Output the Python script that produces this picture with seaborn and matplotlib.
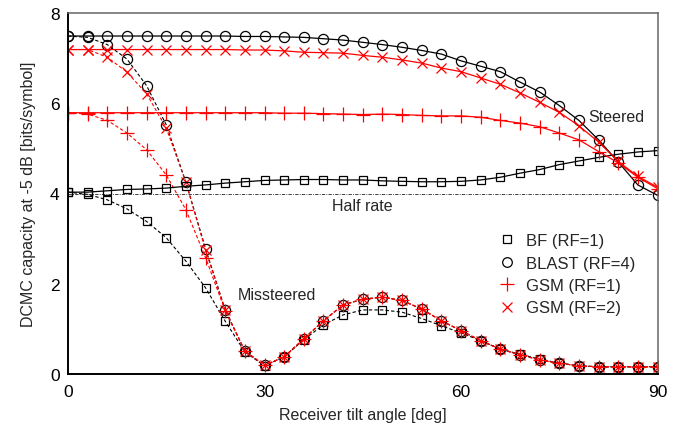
import numpy as np
import pandas as pd
import matplotlib
matplotlib.use("Agg")
import matplotlib.pyplot as plt
from matplotlib.lines import Line2D
import seaborn as sns

# ---------------- data ----------------
angles = list(range(0, 91, 3))

bf_steered = [4.03, 4.03, 4.06, 4.09, 4.10, 4.12, 4.16, 4.19, 4.23, 4.26, 4.29,
              4.30, 4.31, 4.31, 4.30, 4.30, 4.28, 4.27, 4.26, 4.26, 4.27, 4.30,
              4.36, 4.45, 4.53, 4.64, 4.72, 4.80, 4.87, 4.92, 4.95]
blast_steered = [7.49, 7.49, 7.49, 7.49, 7.49, 7.49, 7.49, 7.49, 7.49, 7.48, 7.48,
                 7.47, 7.46, 7.43, 7.40, 7.35, 7.30, 7.24, 7.17, 7.09, 6.94, 6.82,
                 6.70, 6.47, 6.25, 5.95, 5.62, 5.19, 4.70, 4.19, 3.96]
gsm1_steered = [5.79, 5.79, 5.79, 5.79, 5.79, 5.79, 5.79, 5.79, 5.79, 5.79, 5.79,
                5.78, 5.78, 5.77, 5.76, 5.75, 5.76, 5.75, 5.73, 5.72, 5.72, 5.69,
                5.62, 5.56, 5.48, 5.34, 5.19, 4.93, 4.68, 4.36, 4.11]
gsm2_steered = [7.19, 7.19, 7.19, 7.19, 7.19, 7.19, 7.19, 7.19, 7.19, 7.18, 7.18,
                7.16, 7.13, 7.12, 7.11, 7.06, 7.02, 6.96, 6.89, 6.78, 6.70, 6.56,
                6.42, 6.23, 6.02, 5.80, 5.50, 5.14, 4.71, 4.38, 4.14]

bf_missteered = [4.03, 3.98, 3.86, 3.66, 3.38, 3.02, 2.50, 1.91, 1.17, 0.49, 0.18,
                 0.38, 0.76, 1.09, 1.31, 1.42, 1.42, 1.37, 1.23, 1.07, 0.91, 0.74,
                 0.55, 0.44, 0.33, 0.24, 0.18, 0.16, 0.16, 0.16, 0.16]
blast_missteered = [7.49, 7.46, 7.30, 6.98, 6.39, 5.52, 4.25, 2.78, 1.42, 0.51, 0.19,
                    0.38, 0.78, 1.18, 1.53, 1.66, 1.70, 1.63, 1.44, 1.18, 0.96, 0.74,
                    0.55, 0.43, 0.31, 0.24, 0.18, 0.16, 0.16, 0.16, 0.16]
gsm1_missteered = [5.79, 5.76, 5.62, 5.34, 4.97, 4.41, 3.64, 2.58, 1.40, 0.51, 0.19,
                   0.38, 0.78, 1.18, 1.53, 1.66, 1.70, 1.63, 1.44, 1.18, 0.96, 0.74,
                   0.55, 0.43, 0.31, 0.24, 0.18, 0.16, 0.16, 0.16, 0.16]
gsm2_missteered = [7.19, 7.19, 7.02, 6.69, 6.21, 5.45, 4.25, 2.74, 1.42, 0.51, 0.19,
                   0.38, 0.78, 1.18, 1.53, 1.66, 1.70, 1.63, 1.44, 1.18, 0.96, 0.74,
                   0.55, 0.43, 0.31, 0.24, 0.18, 0.16, 0.16, 0.16, 0.16]

half_rate = 4.0
labels = ["BF (RF=1)", "BLAST (RF=4)", "GSM (RF=1)", "GSM (RF=2)"]
x_ticks = [0, 30, 60, 90]
y_ticks = [0, 2, 4, 6, 8]

# ---------------- style ----------------
sns.set_theme(style="white")
plt.rcParams["font.family"] = ["Liberation Sans Narrow", "Liberation Sans", "DejaVu Sans"]
FS = 11.5

fig = plt.figure(figsize=(6.86, 4.31), dpi=100)
ax = fig.add_axes([68 / 686, 1 - 375 / 431, (657.5 - 68) / 686, (375 - 14) / 431])

styles = [
    dict(color="black", marker="s", markersize=6.3),
    dict(color="black", marker="o", markersize=7.3),
    dict(color="red", marker="+", markersize=10),
    dict(color="red", marker="x", markersize=7),
]
steered = [bf_steered, blast_steered, gsm1_steered, gsm2_steered]
missteered = [bf_missteered, blast_missteered, gsm1_missteered, gsm2_missteered]

# dashed (missteered) first, then solid (steered)
for vals, st in zip(missteered, styles):
    sns.lineplot(x=angles, y=vals, ax=ax, color=st["color"], marker=st["marker"],
                 markersize=st["markersize"], markerfacecolor="none",
                 markeredgecolor=st["color"], markeredgewidth=0.9,
                 linewidth=0.8, linestyle=(0, (3, 2)))
for vals, st in zip(steered, styles):
    sns.lineplot(x=angles, y=vals, ax=ax, color=st["color"], marker=st["marker"],
                 markersize=st["markersize"], markerfacecolor="none",
                 markeredgecolor=st["color"], markeredgewidth=0.9,
                 linewidth=0.9, linestyle="-")

ax.axhline(half_rate, color="#222222", linewidth=0.6, linestyle=(0, (4, 1.5, 1, 1.5)), zorder=1)

ax.set_xlim(0, 90)
ax.set_ylim(0, 8)
ax.set_xticks(x_ticks)
ax.set_yticks(y_ticks)
ax.tick_params(axis="both", direction="in", length=8.5, width=1, colors="#444444",
               labelcolor="black", labelsize=FS + 1, pad=6)
ax.tick_params(axis="x", pad=7)

for s in ["left", "bottom"]:
    ax.spines[s].set_color("black")
    ax.spines[s].set_linewidth(1.4)
for s in ["top", "right"]:
    ax.spines[s].set_color("#666666")
    ax.spines[s].set_linewidth(1.1)

ax.set_xlabel("Receiver tilt angle [deg]", fontsize=FS, labelpad=6)
ax.set_ylabel("DCMC capacity at -5 dB [bits/symbol]", fontsize=FS, labelpad=10)

ax.text(79.4, 5.70, "Steered", fontsize=FS, ha="left", va="center")
ax.text(45.0, 3.73, "Half rate", fontsize=FS, ha="center", va="center")
ax.text(25.9, 1.77, "Missteered", fontsize=FS, ha="left", va="center")

handles = [Line2D([], [], linestyle="none", marker=st["marker"], markersize=st["markersize"] * 0.95,
                  markerfacecolor="none", markeredgecolor=st["color"], markeredgewidth=0.9)
           for st in styles]
ax.legend(handles, labels, loc="upper left", bbox_to_anchor=(499 / 686, 1 - 234 / 431),
          bbox_transform=fig.transFigure, frameon=False, fontsize=FS + 0.5, borderpad=0,
          handlelength=1.0, handletextpad=0.6, labelspacing=0.45, borderaxespad=0)

fig.savefig("out.png", dpi=100)
